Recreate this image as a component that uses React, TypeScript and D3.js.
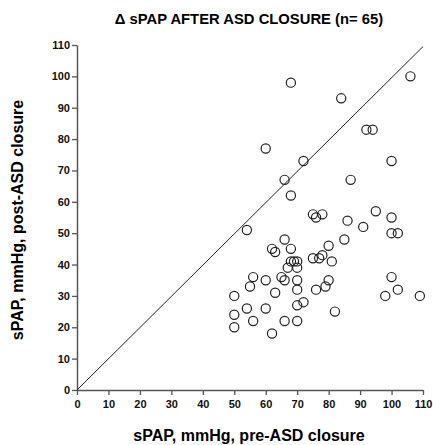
import * as d3 from 'd3';
import { useEffect, useRef } from 'react';

// pre-ASD closure sPAP (mmHg)
const preValues = [
  68, 106, 84, 92, 94, 60, 72, 100, 66, 87, 68,
  75, 76, 78, 95, 100, 86, 91, 100, 102, 54, 85, 66, 80, 62, 63, 68,
  78, 75, 77, 81, 68, 69, 70, 67, 70, 56, 60, 65, 66, 70, 80, 79, 76, 70,
  55, 100, 102, 98, 109, 50, 63, 72, 70, 54, 60, 82, 50, 56, 66, 70, 50, 62,
];
// post-ASD closure sPAP (mmHg)
const postValues = [
  98, 100, 93, 83, 83, 77, 73, 73, 67, 67, 62,
  56, 55, 56, 57, 55, 54, 52, 50, 50, 51, 48, 48, 46, 45, 44, 45,
  43, 42, 42, 41, 41, 41, 41, 39, 39, 36, 35, 36, 35, 35, 35, 33, 32, 32,
  33, 36, 32, 30, 30, 30, 31, 28, 27, 26, 26, 25, 24, 22, 22, 22, 20, 18,
];
const tickValues = [0, 10, 20, 30, 40, 50, 60, 70, 80, 90, 100, 110];

const title = '\u0394 sPAP AFTER ASD CLOSURE (n= 65)';
const xTitle = 'sPAP, mmHg, pre-ASD closure';
const yTitle = 'sPAP, mmHg, post-ASD closure';

export default function App() {
  const ref = useRef(null);
  const width = 433;
  const height = 445;

  useEffect(() => {
    const svg = d3.select(ref.current);
    svg.selectAll('*').remove();

    const x = d3.scaleLinear().domain([0, 110]).range([77, 423]);
    const y = d3.scaleLinear().domain([0, 110]).range([390, 45]);
    const font = 'Arial, "Liberation Sans", sans-serif';
    const axisColor = '#555';

    const xAxis = svg.append('g')
      .attr('transform', `translate(0,${y(0)})`)
      .call(d3.axisBottom(x).tickValues(tickValues).tickSize(5).tickPadding(5).tickSizeOuter(0));
    const yAxis = svg.append('g')
      .attr('transform', `translate(${x(0)},0)`)
      .call(d3.axisLeft(y).tickValues(tickValues).tickSize(5).tickPadding(2).tickSizeOuter(0));

    [xAxis, yAxis].forEach(ax => {
      ax.select('.domain').attr('stroke', axisColor).attr('stroke-width', 1.5);
      ax.selectAll('.tick line').attr('stroke', axisColor).attr('stroke-width', 1.3);
      ax.selectAll('.tick text')
        .attr('fill', '#111')
        .style('font-family', font)
        .style('font-weight', 'bold')
        .style('font-size', '11px');
    });

    // line of identity
    svg.append('line')
      .attr('x1', x(0)).attr('y1', y(0))
      .attr('x2', x(110)).attr('y2', y(109.5))
      .attr('stroke', '#222')
      .attr('stroke-width', 1);

    svg.append('g')
      .selectAll('circle')
      .data(preValues.map((v, i) => ({ pre: v, post: postValues[i] })))
      .enter()
      .append('circle')
      .attr('cx', d => x(d.pre))
      .attr('cy', d => y(d.post))
      .attr('r', 4.6)
      .attr('fill', 'none')
      .attr('stroke', '#222')
      .attr('stroke-width', 1.2);

    svg.append('text')
      .attr('x', 249)
      .attr('y', 24)
      .attr('text-anchor', 'middle')
      .style('font-family', font)
      .style('font-weight', 'bold')
      .style('font-size', '14.8px')
      .text(title);

    svg.append('text')
      .attr('x', 249)
      .attr('y', 441)
      .attr('text-anchor', 'middle')
      .style('font-family', font)
      .style('font-weight', 'bold')
      .style('font-size', '16px')
      .text(xTitle);

    svg.append('text')
      .attr('transform', 'translate(23,220) rotate(-90)')
      .attr('text-anchor', 'middle')
      .style('font-family', font)
      .style('font-weight', 'bold')
      .style('font-size', '16px')
      .text(yTitle);
  }, []);

  return (
    <svg
      ref={ref}
      width={width}
      height={height}
      style={{ position: 'fixed', left: 0, top: 0, background: '#fff' }}
    />
  );
}
